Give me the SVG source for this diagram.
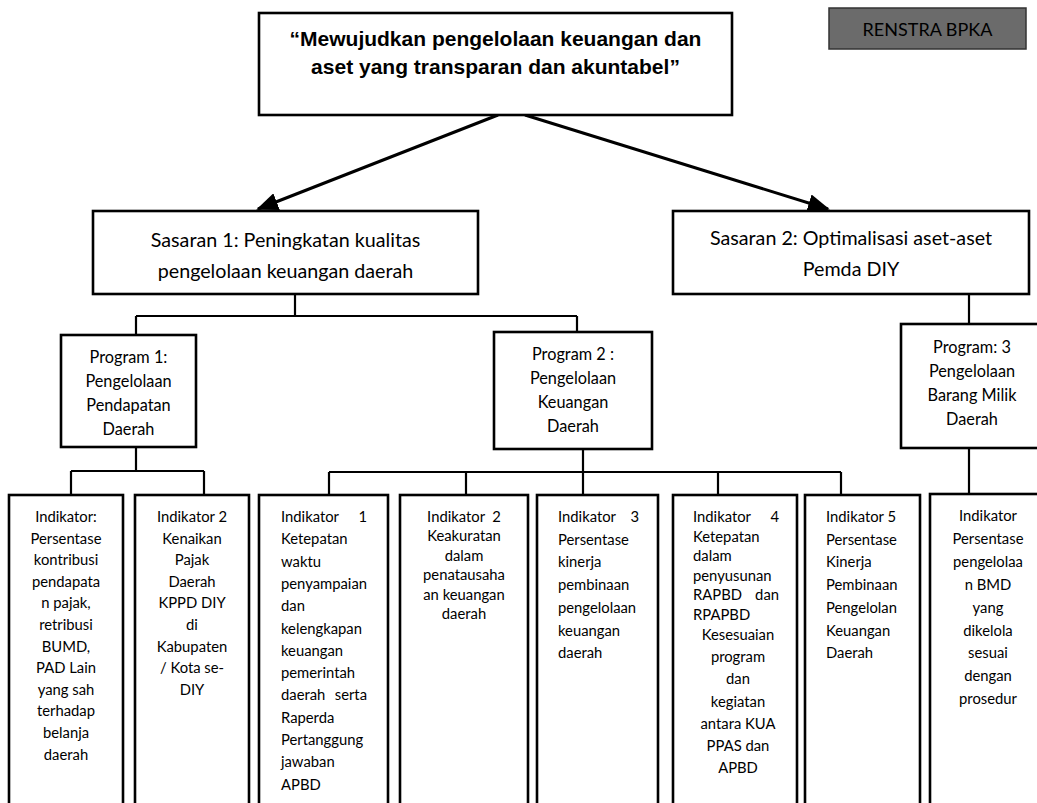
<svg xmlns="http://www.w3.org/2000/svg" width="1037" height="803" viewBox="0 0 1037 803">
<defs>
<style>
.box{fill:#fff;stroke:#000;stroke-width:2.6}
.conn{stroke:#000;stroke-width:2.2;fill:none}
.arr{stroke:#000;stroke-width:3;fill:none}
.t{font-family:Lato,"Open Sans",sans-serif;fill:#000}
.c{text-anchor:middle}
.e{text-anchor:end}
.s1{font-size:19.7px}
.s2{font-size:16.3px}
.s3{font-size:14.8px}
.hd{font-family:"Liberation Sans",Arial,sans-serif;font-weight:bold;font-size:21px;text-anchor:middle}
</style>
<marker id="ah" markerUnits="userSpaceOnUse" viewBox="0 0 22 18" markerWidth="22" markerHeight="18" refX="20" refY="9" orient="auto">
<path d="M0,0 L22,9 L0,18 z" fill="#000"/>
</marker>
</defs>
<rect width="1037" height="803" fill="#fff"/>

<g id="connectors">
<line class="arr" x1="498" y1="115" x2="258" y2="209" marker-end="url(#ah)"/>
<line class="arr" x1="525" y1="115" x2="828" y2="209" marker-end="url(#ah)"/>
<path class="conn" d="M295,294 V316 M136,316 H577 M136,316 V335 M577,316 V332"/>
<path class="conn" d="M136,447 V471 M71,471 H204 M71,471 V495 M204,471 V495"/>
<path class="conn" d="M583,449 V495 M329,472 H841 M329,472 V495 M466,472 V495 M718,472 V495 M841,472 V495"/>
<path class="conn" d="M969,294 V324 M969,448 V494"/>
</g>

<g id="visi">
<rect class="box" x="259" y="13" width="473" height="102"/>
<text class="hd" x="495.5" y="46">“Mewujudkan pengelolaan keuangan dan</text>
<text class="hd" x="495.5" y="74">aset yang transparan dan akuntabel”</text>
</g>

<g id="renstra">
<rect x="829" y="8" width="197" height="41" fill="#6b6b6b" stroke="#333" stroke-width="1.5"/>
<text class="t c" x="927.5" y="36" font-size="18" fill="#111">RENSTRA BPKA</text>
</g>

<g id="sasaran1">
<rect class="box" x="93" y="211" width="385" height="83"/>
<text class="t c s1" x="285.5" y="247">Sasaran 1: Peningkatan kualitas</text>
<text class="t c s1" x="285.5" y="278">pengelolaan keuangan daerah</text>
</g>

<g id="sasaran2">
<rect class="box" x="673" y="211" width="356" height="83"/>
<text class="t c s1" x="851" y="245">Sasaran 2: Optimalisasi aset-aset</text>
<text class="t c s1" x="851" y="276">Pemda DIY</text>
</g>

<g id="program1">
<rect class="box" x="61" y="335" width="135" height="112"/>
<text class="t c s2" x="128.5" y="363">Program 1:</text>
<text class="t c s2" x="128.5" y="387">Pengelolaan</text>
<text class="t c s2" x="128.5" y="411">Pendapatan</text>
<text class="t c s2" x="128.5" y="435">Daerah</text>
</g>

<g id="program2">
<rect class="box" x="494" y="332" width="158" height="117"/>
<text class="t c s2" x="573" y="360">Program 2 :</text>
<text class="t c s2" x="573" y="384">Pengelolaan</text>
<text class="t c s2" x="573" y="408">Keuangan</text>
<text class="t c s2" x="573" y="432">Daerah</text>
</g>

<g id="program3">
<rect class="box" x="901" y="324" width="145" height="124"/>
<text class="t c s2" x="972" y="353">Program: 3</text>
<text class="t c s2" x="972" y="377">Pengelolaan</text>
<text class="t c s2" x="972" y="401">Barang Milik</text>
<text class="t c s2" x="972" y="425">Daerah</text>
</g>

<g id="ind-p1-1">
<rect class="box" x="9" y="495" width="114" height="320"/>
<text class="t c s3" x="66" y="522">Indikator:</text>
<text class="t c s3" x="66" y="543.6">Persentase</text>
<text class="t c s3" x="66" y="565.2">kontribusi</text>
<text class="t c s3" x="66" y="586.8">pendapata</text>
<text class="t c s3" x="66" y="608.4">n pajak,</text>
<text class="t c s3" x="66" y="630">retribusi</text>
<text class="t c s3" x="66" y="651.6">BUMD,</text>
<text class="t c s3" x="66" y="673.2">PAD Lain</text>
<text class="t c s3" x="66" y="694.8">yang sah</text>
<text class="t c s3" x="66" y="716.4">terhadap</text>
<text class="t c s3" x="66" y="738">belanja</text>
<text class="t c s3" x="66" y="759.6">daerah</text>
</g>

<g id="ind-p1-2">
<rect class="box" x="135" y="495" width="114" height="320"/>
<text class="t c s3" x="192" y="522">Indikator 2</text>
<text class="t c s3" x="192" y="543.6">Kenaikan</text>
<text class="t c s3" x="192" y="565.2">Pajak</text>
<text class="t c s3" x="192" y="586.8">Daerah</text>
<text class="t c s3" x="192" y="608.4">KPPD DIY</text>
<text class="t c s3" x="192" y="630">di</text>
<text class="t c s3" x="192" y="651.6">Kabupaten</text>
<text class="t c s3" x="192" y="673.2">/ Kota se-</text>
<text class="t c s3" x="192" y="694.8">DIY</text>
</g>

<g id="ind-p2-1">
<rect class="box" x="259" y="495" width="129" height="320"/>
<text class="t s3" x="281" y="522">Indikator</text><text class="t e s3" x="367" y="522">1</text>
<text class="t s3" x="281" y="544.3">Ketepatan</text>
<text class="t s3" x="281" y="566.6">waktu</text>
<text class="t s3" x="281" y="588.9">penyampaian</text>
<text class="t s3" x="281" y="611.2">dan</text>
<text class="t s3" x="281" y="633.5">kelengkapan</text>
<text class="t s3" x="281" y="655.8">keuangan</text>
<text class="t s3" x="281" y="678.1">pemerintah</text>
<text class="t s3" x="281" y="700.4">daerah</text><text class="t e s3" x="367" y="700.4">serta</text>
<text class="t s3" x="281" y="722.7">Raperda</text>
<text class="t s3" x="281" y="745">Pertanggung</text>
<text class="t s3" x="281" y="767.3">jawaban</text>
<text class="t s3" x="281" y="789.6">APBD</text>
</g>

<g id="ind-p2-2">
<rect class="box" x="400" y="495" width="128" height="320"/>
<text class="t c s3" x="464" y="522" xml:space="preserve">Indikator  2</text>
<text class="t c s3" x="464" y="541.4">Keakuratan</text>
<text class="t c s3" x="464" y="560.8">dalam</text>
<text class="t c s3" x="464" y="580.2">penatausaha</text>
<text class="t c s3" x="464" y="599.6">an keuangan</text>
<text class="t c s3" x="464" y="619">daerah</text>
</g>

<g id="ind-p2-3">
<rect class="box" x="537" y="495" width="121" height="320"/>
<text class="t s3" x="558" y="522">Indikator</text><text class="t e s3" x="639" y="522">3</text>
<text class="t s3" x="558" y="544.7">Persentase</text>
<text class="t s3" x="558" y="567.4">kinerja</text>
<text class="t s3" x="558" y="590.1">pembinaan</text>
<text class="t s3" x="558" y="612.8">pengelolaan</text>
<text class="t s3" x="558" y="635.5">keuangan</text>
<text class="t s3" x="558" y="658.2">daerah</text>
</g>

<g id="ind-p2-4">
<rect class="box" x="673" y="495" width="124" height="320"/>
<text class="t s3" x="693" y="522">Indikator</text><text class="t e s3" x="779" y="522">4</text>
<text class="t s3" x="693" y="541.5">Ketepatan</text>
<text class="t s3" x="693" y="561">dalam</text>
<text class="t s3" x="693" y="580.5">penyusunan</text>
<text class="t s3" x="693" y="600">RAPBD</text><text class="t e s3" x="779" y="600">dan</text>
<text class="t s3" x="693" y="619.5">RPAPBD</text>
<text class="t c s3" x="738" y="640">Kesesuaian</text>
<text class="t c s3" x="738" y="662.2">program</text>
<text class="t c s3" x="738" y="684.4">dan</text>
<text class="t c s3" x="738" y="706.6">kegiatan</text>
<text class="t c s3" x="738" y="728.8">antara KUA</text>
<text class="t c s3" x="738" y="751">PPAS dan</text>
<text class="t c s3" x="738" y="773.2">APBD</text>
</g>

<g id="ind-p2-5">
<rect class="box" x="805" y="495" width="115" height="320"/>
<text class="t s3" x="826" y="522">Indikator 5</text>
<text class="t s3" x="826" y="544.7">Persentase</text>
<text class="t s3" x="826" y="567.4">Kinerja</text>
<text class="t s3" x="826" y="590.1">Pembinaan</text>
<text class="t s3" x="826" y="612.8">Pengelolan</text>
<text class="t s3" x="826" y="635.5">Keuangan</text>
<text class="t s3" x="826" y="658.2">Daerah</text>
</g>

<g id="ind-p3-1">
<rect class="box" x="930" y="494" width="116" height="321"/>
<text class="t c s3" x="988" y="521">Indikator</text>
<text class="t c s3" x="988" y="543.9">Persentase</text>
<text class="t c s3" x="988" y="566.8">pengelolaa</text>
<text class="t c s3" x="988" y="589.7">n BMD</text>
<text class="t c s3" x="988" y="612.6">yang</text>
<text class="t c s3" x="988" y="635.5">dikelola</text>
<text class="t c s3" x="988" y="658.4">sesuai</text>
<text class="t c s3" x="988" y="681.3">dengan</text>
<text class="t c s3" x="988" y="704.2">prosedur</text>
</g>
</svg>
